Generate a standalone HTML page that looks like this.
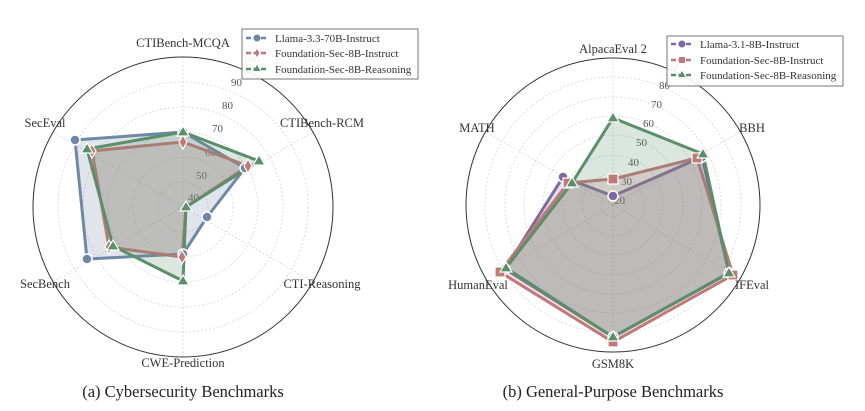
<!DOCTYPE html>
<html><head><meta charset="utf-8"><style>
html,body{margin:0;padding:0;background:#fff;}
svg{display:block;font-family:"Liberation Serif","DejaVu Serif",serif;}
</style></head><body>
<svg width="865" height="411" viewBox="0 0 865 411" xmlns="http://www.w3.org/2000/svg">
<!-- LEFT CHART -->
<g>
<g fill="none" stroke="#d4d4d4" stroke-width="0.8" stroke-dasharray="2,2">
<circle cx="183" cy="207" r="25"/><circle cx="183" cy="207" r="50"/><circle cx="183" cy="207" r="75"/><circle cx="183" cy="207" r="100"/><circle cx="183" cy="207" r="125"/>
<line x1="183" y1="207" x2="183" y2="57"/><line x1="183" y1="207" x2="313" y2="132"/><line x1="183" y1="207" x2="313" y2="282"/><line x1="183" y1="207" x2="183" y2="357"/><line x1="183" y1="207" x2="53" y2="282"/><line x1="183" y1="207" x2="53" y2="132"/>
</g>
<circle cx="183" cy="207" r="150" fill="none" stroke="#333" stroke-width="1"/>
<g font-size="11" fill="#555">
<text x="188" y="201">40</text><text x="196" y="179">50</text><text x="205" y="156">60</text><text x="212" y="132">70</text><text x="222" y="109">80</text><text x="231" y="86">90</text><text x="243" y="63">100</text>
</g>
<polygon points="183,132 245,168 207,217 183,254 87,259 75,140" fill="#7088a8" fill-opacity="0.22" stroke="#7088a8" stroke-width="3" stroke-linejoin="round"/>
<polygon points="183,142 248,166 186,207 182,257 109,247 92,151" fill="#c07878" fill-opacity="0.22" stroke="#c07878" stroke-width="3" stroke-linejoin="round"/>
<polygon points="183,132 259,161 186,207 183,281 113,246 87,149" fill="#5a8f6a" fill-opacity="0.22" stroke="#5a8f6a" stroke-width="3" stroke-linejoin="round"/>
<g fill="#7088a8" stroke="#fff" stroke-width="1.5">
<circle cx="183" cy="132" r="5"/><circle cx="245" cy="168" r="5"/><circle cx="207" cy="217" r="5"/><circle cx="183" cy="254" r="5"/><circle cx="87" cy="259" r="5"/><circle cx="75" cy="140" r="5"/>
</g>
<g fill="#c07878" stroke="#fff" stroke-width="1.2">
<path d="M183,135 l4,7 l-4,7 l-4,-7z"/><path d="M248,159 l4,7 l-4,7 l-4,-7z"/><path d="M182,250 l4,7 l-4,7 l-4,-7z"/><path d="M109,240 l4,7 l-4,7 l-4,-7z"/><path d="M92,144 l4,7 l-4,7 l-4,-7z"/>
</g>
<g fill="#5a8f6a" stroke="#fff" stroke-width="1.2">
<path d="M183,126 l6,10 h-12z"/><path d="M259,155 l6,10 h-12z"/><path d="M186,201 l6,10 h-12z"/><path d="M183,275 l6,10 h-12z"/><path d="M113,240 l6,10 h-12z"/><path d="M87,143 l6,10 h-12z"/>
</g>
<g font-size="12.5" fill="#333" text-anchor="middle">
<text x="183" y="47">CTIBench-MCQA</text><text x="322" y="127">CTIBench-RCM</text><text x="322" y="288">CTI-Reasoning</text><text x="183" y="367">CWE-Prediction</text><text x="45" y="288">SecBench</text><text x="45" y="127">SecEval</text>
</g>
<rect x="242" y="29" width="176" height="50" fill="#fff" fill-opacity="0.9" stroke="#555" stroke-width="0.8"/>
<g font-size="11" fill="#333">
<line x1="246" y1="38" x2="268" y2="38" stroke="#7088a8" stroke-width="2.5" stroke-dasharray="5,2.5"/><circle cx="257" cy="38" r="3.5" fill="#7088a8"/><text x="275" y="42">Llama-3.3-70B-Instruct</text>
<line x1="246" y1="53" x2="268" y2="53" stroke="#c07878" stroke-width="2.5" stroke-dasharray="5,2.5"/><path d="M257,49 l2.5,4 l-2.5,4 l-2.5,-4z" fill="#c07878"/><text x="275" y="57">Foundation-Sec-8B-Instruct</text>
<line x1="246" y1="69" x2="268" y2="69" stroke="#5a8f6a" stroke-width="2.5" stroke-dasharray="5,2.5"/><path d="M257,65 l3.5,6 h-7z" fill="#5a8f6a"/><text x="275" y="73">Foundation-Sec-8B-Reasoning</text>
</g>
<text x="183" y="397" font-size="16.5" fill="#222" text-anchor="middle">(a) Cybersecurity Benchmarks</text>
</g>
<!-- RIGHT CHART -->
<g>
<g fill="none" stroke="#d4d4d4" stroke-width="0.8" stroke-dasharray="2,2">
<circle cx="613" cy="205" r="12"/><circle cx="613" cy="205" r="31"/><circle cx="613" cy="205" r="50"/><circle cx="613" cy="205" r="70"/><circle cx="613" cy="205" r="89"/><circle cx="613" cy="205" r="108"/><circle cx="613" cy="205" r="128"/>
<line x1="613" y1="205" x2="613" y2="58"/><line x1="613" y1="205" x2="740" y2="132"/><line x1="613" y1="205" x2="740" y2="278"/><line x1="613" y1="205" x2="613" y2="352"/><line x1="613" y1="205" x2="486" y2="278"/><line x1="613" y1="205" x2="486" y2="132"/>
</g>
<circle cx="613" cy="205" r="147" fill="none" stroke="#333" stroke-width="1"/>
<g font-size="11" fill="#555">
<text x="614" y="204">20</text><text x="621" y="185">30</text><text x="628" y="166">40</text><text x="636" y="146">50</text><text x="643" y="127">60</text><text x="651" y="108">70</text><text x="659" y="89">80</text><text x="667" y="70">90</text>
</g>
<polygon points="613,196 702,157 729,273 613,337 505,269 563,177" fill="#7d6aa0" fill-opacity="0.22" stroke="#7d6aa0" stroke-width="3" stroke-linejoin="round"/>
<polygon points="613,179 697,158 733,275 613,342 500,272 568,183" fill="#c07878" fill-opacity="0.22" stroke="#c07878" stroke-width="3" stroke-linejoin="round"/>
<polygon points="613,118 703,154 729,273 613,337 506,268 572,183" fill="#5a8f6a" fill-opacity="0.22" stroke="#5a8f6a" stroke-width="3" stroke-linejoin="round"/>
<g fill="#7d6aa0" stroke="#fff" stroke-width="1.5">
<circle cx="613" cy="196" r="5"/><circle cx="702" cy="157" r="5"/><circle cx="729" cy="273" r="5"/><circle cx="613" cy="337" r="5"/><circle cx="505" cy="269" r="5"/><circle cx="563" cy="177" r="5"/>
</g>
<g fill="#c07878" stroke="#fff" stroke-width="1.2">
<rect x="608" y="174" width="10" height="10"/><rect x="692" y="153" width="10" height="10"/><rect x="728" y="270" width="10" height="10"/><rect x="608" y="337" width="10" height="10"/><rect x="495" y="267" width="10" height="10"/><rect x="563" y="178" width="10" height="10"/>
</g>
<g fill="#5a8f6a" stroke="#fff" stroke-width="1.2">
<path d="M613,112 l6,10 h-12z"/><path d="M703,148 l6,10 h-12z"/><path d="M729,267 l6,10 h-12z"/><path d="M613,331 l6,10 h-12z"/><path d="M506,262 l6,10 h-12z"/><path d="M572,177 l6,10 h-12z"/>
</g>
<g font-size="12.5" fill="#333" text-anchor="middle">
<text x="613" y="53">AlpacaEval 2</text><text x="752" y="132">BBH</text><text x="752" y="289">IFEval</text><text x="613" y="368">GSM8K</text><text x="478" y="289">HumanEval</text><text x="477" y="132">MATH</text>
</g>
<rect x="667" y="36" width="176" height="50" fill="#fff" fill-opacity="0.9" stroke="#555" stroke-width="0.8"/>
<g font-size="11" fill="#333">
<line x1="671" y1="44" x2="693" y2="44" stroke="#7d6aa0" stroke-width="2.5" stroke-dasharray="5,2.5"/><circle cx="682" cy="44" r="3.5" fill="#7d6aa0"/><text x="700" y="48">Llama-3.1-8B-Instruct</text>
<line x1="671" y1="60" x2="693" y2="60" stroke="#c07878" stroke-width="2.5" stroke-dasharray="5,2.5"/><rect x="679" y="57" width="6" height="6" fill="#c07878"/><text x="700" y="64">Foundation-Sec-8B-Instruct</text>
<line x1="671" y1="75" x2="693" y2="75" stroke="#5a8f6a" stroke-width="2.5" stroke-dasharray="5,2.5"/><path d="M682,71 l3.5,6 h-7z" fill="#5a8f6a"/><text x="700" y="79">Foundation-Sec-8B-Reasoning</text>
</g>
<text x="613" y="397" font-size="16.5" fill="#222" text-anchor="middle">(b) General-Purpose Benchmarks</text>
</g>
</svg>
</body></html>
